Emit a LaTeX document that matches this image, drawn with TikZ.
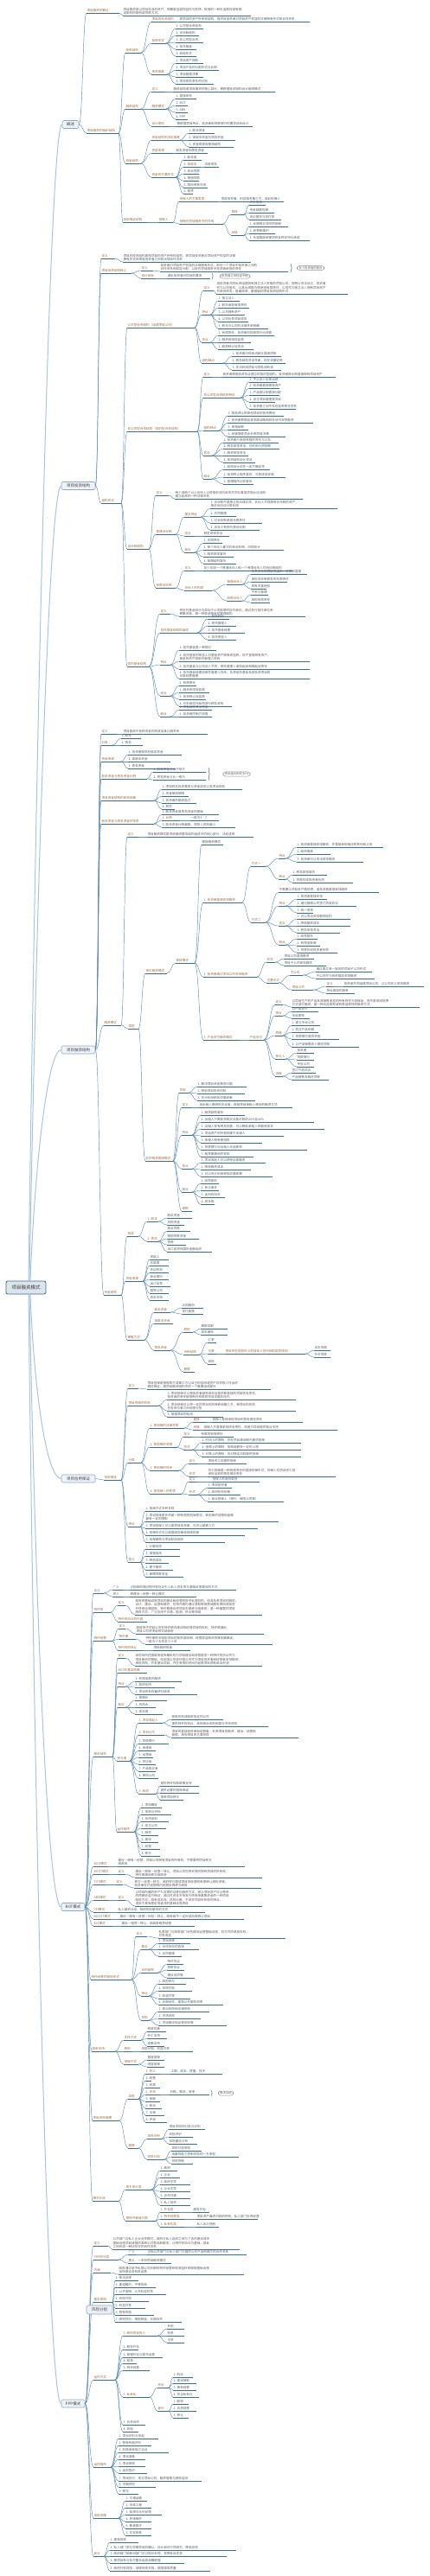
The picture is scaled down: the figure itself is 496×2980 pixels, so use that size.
\documentclass[tikz,border=0pt]{standalone}
\usepackage{fontspec}
\setmainfont{Noto Sans CJK SC}
\usetikzlibrary{calc,decorations.pathreplacing}
\definecolor{ulc}{HTML}{3A6D96}
\definecolor{cnc}{HTML}{5B8DB8}
\definecolor{labc}{HTML}{9C6B3C}
\definecolor{lfc}{HTML}{5E5E5E}
\definecolor{rcc}{HTML}{A8C6DD}
\definecolor{boxf}{HTML}{EEF3F8}
\definecolor{boxd}{HTML}{8FA9C0}
\tikzset{
 lab/.style={anchor=south west,inner xsep=0.4pt,inner ysep=0.8pt,text=labc,font=\fontsize{3.6}{4.5}\selectfont,align=left},
 lf/.style={lab,text=lfc},
 ul/.style={draw=ulc,line width=0.65pt},
 cn/.style={draw=cnc,line width=0.45pt},
 mbox/.style={draw=boxd,fill=boxf,rounded corners=1.5pt,line width=0.6pt,font=\fontsize{4.5}{5}\selectfont,text=black!75,inner sep=0pt,minimum height=9pt},
 rbox/.style={draw=ulc,fill=ulc!18,rounded corners=2pt,line width=0.8pt,font=\fontsize{5.5}{6}\selectfont,text=black!80,inner sep=0pt,minimum width=46pt,minimum height=15pt},
 rc/.style={draw=rcc,line width=1pt},
 bub/.style={draw=black!45,rounded corners=3pt,line width=0.4pt,font=\fontsize{3.4}{4}\selectfont,text=lfc,inner xsep=2pt,inner ysep=1pt},
}
\newcommand\mmB[6]{\coordinate (#1-l) at (#3,#4);\coordinate (#1-r) at (#5,#4);\node[lab] (#1) at (#1-l) {#6};\draw[ul] (#1-l) -- (#1-r);\draw[cn] let \p1=(#2-r),\p2=(#1-l) in (\p1) .. controls ({(\x1+\x2)/2},\y1) and ({(\x1+\x2)/2},\y2) .. (\p2);}
\newcommand\mmL[6]{\coordinate (#1-l) at (#3,#4);\coordinate (#1-r) at (#5,#4);\node[lf] (#1) at (#1-l) {#6};\draw[ul] (#1-l) -- (#1-r);\draw[cn] let \p1=(#2-r),\p2=(#1-l) in (\p1) .. controls ({(\x1+\x2)/2},\y1) and ({(\x1+\x2)/2},\y2) .. (\p2);}
\newcommand\mmBub[6]{\draw[ul,line width=0.4pt,decorate,decoration={brace,amplitude=1.3pt}] (#2,#3) -- (#2,#4);\node[bub] (#1) at (#5,{(#3+#4)/2}) {#6};}
\begin{document}
\begin{tikzpicture}[x=1pt,y=-1pt]
\useasboundingbox (0,0) rectangle (496,2980);
\fill[white] (0,0) rectangle (496,2980);
% root and main branches
\node[rbox] (root) at (30,1489.5) {项目融资模式};
\node[mbox,minimum width=19pt] (m1) at (81.5,144) {概述};
\node[mbox,minimum width=39pt] (m2) at (90.5,562) {项目投资结构};
\node[mbox,minimum width=39pt] (m3) at (90.5,1214.5) {项目融资结构};
\node[mbox,minimum width=39pt] (m4) at (90.5,1710.5) {项目信用保证};
\node[mbox,minimum width=27pt] (m5) at (84.5,2206) {BOT模式};
\node[mbox,minimum width=27pt] (m6) at (84.5,2780.5) {PPP模式};
\foreach \m in {m1,m2,m3,m4,m5,m6} \coordinate (\m-r) at (\m.east);
\draw[rc] ([xshift=3pt]root.north) .. controls (41,900) and (57,144) .. (m1.west);
\draw[rc] ([xshift=4pt]root.north) .. controls (41,1100) and (56,562) .. (m2.west);
\draw[rc] ([xshift=5pt]root.north) .. controls (40,1350) and (55,1214.5) .. (m3.west);
\draw[rc] ([xshift=5pt]root.south) .. controls (40,1620) and (55,1710.5) .. (m4.west);
\draw[rc] ([xshift=4pt]root.south) .. controls (42,1900) and (56,2206) .. (m5.west);
\draw[rc] ([xshift=3pt]root.south) .. controls (42,2250) and (57,2780.5) .. (m6.west);
%================ main 1
\mmB{a}{m1}{100}{15}{138}{项目融资的概念}
\mmL{a1}{a}{142}{18}{290}{项目融资是以项目本身的资产、预期收益或权益作为抵押，取得的一种无追索权或有限\\追索权的融资或贷款方式。}
\mmB{b}{m1}{100}{154}{137}{项目融资的组织结构}
\mmB{b1}{b}{145}{61}{163}{投资结构}
\mmB{b1a}{b1}{175}{25}{204}{项目的投资结构}
\mmL{b1a1}{b1a}{207}{25}{358}{即项目的资产所有权结构，指项目投资者对项目资产权益的法律拥有形式和合作关系}
\mmB{b1b}{b1}{175}{50}{192}{投资形式}
\mmL{b1b1}{b1b}{203}{33}{235}{1. 公司型合资结构}
\mmL{b1b2}{b1b}{203}{41}{230}{2. 合伙制结构}
\mmL{b1b3}{b1b}{203}{49}{235}{3. 非公司型合资}
\mmL{b1b4}{b1b}{203}{57}{227}{4. 信托基金}
\mmL{b1b5}{b1b}{203}{65}{227}{5. 其他形式}
\mmB{b1c}{b1}{175}{86}{193}{考虑因素}
\mmL{b1c1}{b1c}{203}{73}{235}{1. 项目资产拥有}
\mmL{b1c2}{b1c}{203}{81}{253}{2. 项目产品的分配形式与比例}
\mmL{b1c3}{b1c}{203}{89}{235}{3. 项目管理决策}
\mmL{b1c4}{b1c}{203}{97}{247}{4. 项目债务责任的分担}
\mmB{b2}{b}{145}{126}{163}{融资结构}
\mmB{b2a}{b2}{175}{106}{190}{定义}
\mmL{b2a1}{b2a}{200}{106}{318}{融资结构是项目融资的核心部分，需根据投资结构设计融资模式}
\mmB{b2b}{b2}{175}{126}{192}{融资模式}
\mmL{b2b1}{b2b}{203}{114}{227}{1. 直接安排}
\mmL{b2b2}{b2b}{203}{122}{217}{2. BOT}
\mmL{b2b3}{b2b}{203}{130}{217}{3. ABS}
\mmL{b2b4}{b2b}{203}{138}{217}{4. PPP}
\mmB{b2c}{b2}{175}{146}{196}{设计原则}
\mmL{b2c1}{b2c}{204}{146}{292}{需根据项目特点、投资者和贷款银行的要求综合设计}
\mmB{b3}{b}{145}{189}{163}{资金结构}
\mmB{b3a}{b3}{175}{162}{208}{资金结构的决定因素}
\mmL{b3a1}{b3a}{218}{154}{248}{1. 股本资金}
\mmL{b3a2}{b3a}{218}{162}{272}{2. 准股本资金与债务资金}
\mmL{b3a3}{b3a}{218}{170}{270}{3. 资金来源及使用结构}
\mmB{b3b}{b3}{175}{177}{200}{资金来源}
\mmL{b3b1}{b3b}{203}{177}{240}{股本资金和债务资金}
\mmB{b3c}{b3}{175}{205}{203}{资金的主要形式}
\mmL{b3c1}{b3c}{212}{185}{233}{1. 股本金}
\mmB{b3c2}{b3c}{212}{193}{232}{2. 准股本}
\mmL{b3c2a}{b3c2}{236}{193}{253}{次级债务}
\mmL{b3c3}{b3c}{212}{201}{230}{3. 商业贷款}
\mmL{b3c4}{b3c}{212}{209}{230}{4. 银团贷款}
\mmL{b3c5}{b3c}{212}{217}{240}{5. 国际债券市场}
\mmL{b3c6}{b3c}{212}{224}{223}{6. 租赁}
\mmB{b4}{b}{142}{257}{170}{信用保证结构}
\mmB{b4a}{b4}{183}{257}{200}{担保人}
\mmB{b4a1}{b4a}{207}{233}{252}{担保人的主要类型}
\mmL{b4a1a}{b4a1}{255}{233}{328}{项目投资者、利益相关第三方、商业担保人}
\mmB{b4a2}{b4a}{207}{259}{258}{担保在项目融资中的作用}
\mmB{b4a2a}{b4a2}{267}{248}{282}{直接}
\mmL{b4a2a1}{b4a2a}{288}{237}{307}{完工担保}
\mmL{b4a2a2}{b4a2a}{288}{246}{317}{资金缺额担保}
\mmL{b4a2a3}{b4a2a}{288}{254}{325}{无论提货与否付款}
\mmB{b4a2b}{b4a2}{267}{272}{282}{间接}
\mmL{b4a2b1}{b4a2b}{288}{262}{333}{1. 长期购买合同的担保}
\mmL{b4a2b2}{b4a2b}{288}{270}{318}{2. 经营和维护}
\mmL{b4a2b3}{b4a2b}{288}{278}{358}{3. 东道国政府提供的各种支持与承诺}
%================ main 2
\mmB{c}{m2}{117}{299}{133}{定义}
\mmL{c1}{c}{142}{303}{290}{项目的投资结构是指项目的资产所有权结构，即项目投资者对项目资产权益的法律\\拥有形式和项目投资者之间的法律合作关系}
\mmB{d}{m2}{117}{316}{152}{项目投资结构核心}
\mmB{d1}{d}{163}{313}{177}{定义}
\mmL{d1a}{d1}{185}{314}{333}{投资者对项目资产权益的法律拥有形式，即在一个项目中投资者之间的\\合作关系和权益分配，以及在项目融资中投资者承担的责任}
\mmBub{d1b}{336}{305}{315}{359}{多个投资者的联合}
\mmB{d2}{d}{163}{322}{180}{设计目标}
\mmL{d2a}{d2}{193}{322}{243}{满足投资者对项目的要求}
\mmBub{d2b}{245}{316}{323}{271.5}{投资者之间利益平衡}
\mmB{e}{m2}{117}{582}{140}{结构形式}
\mmB{e1}{e}{147}{379}{225}{公司型合资结构（组建项目公司）}
\mmB{e1a}{e1}{235}{336}{247}{定义}
\mmL{e1a1}{e1a}{250}{340}{402}{由投资者共同出资组建具有独立法人资格的项目公司，按照公司法设立，投资者\\作为公司股东，以其出资额为限承担有限责任，公司作为独立法人拥有项目资产\\并承担债务，是最简单、最普遍的项目投资结构形式}
\mmB{e1b}{e1}{233}{364}{243}{特点}
\mmL{e1b1}{e1b}{252}{348}{277}{1. 独立法人}
\mmL{e1b2}{e1b}{252}{356}{288}{2. 股东承担有限责任}
\mmL{e1b3}{e1b}{252}{364}{283}{3. 公司拥有资产}
\mmL{e1b4}{e1b}{252}{372}{287}{4. 公司负责项目债务}
\mmL{e1b5}{e1b}{252}{380}{310}{5. 股东与公司的法律关系明确}
\mmB{e1c}{e1}{233}{396}{243}{优点}
\mmL{e1c1}{e1c}{252}{388}{317}{1. 有限责任，投资者风险局限于出资额}
\mmL{e1c2}{e1c}{252}{396}{290}{2. 融资安排较容易}
\mmL{e1c3}{e1c}{252}{404}{293}{3. 股权转让较灵活}
\mmB{e1d}{e1}{233}{420}{258}{结构缺点}
\mmL{e1d1}{e1d}{268}{412}{325}{1. 投资者对现金流缺乏直接控制}
\mmL{e1d2}{e1d}{268}{420}{330}{2. 税务结构灵活性差，存在双重征税}
\mmL{e1d3}{e1d}{268}{428}{325}{3. 无法利用项目亏损抵消利润}
\mmB{e2}{e}{147}{499}{228}{非公司型合资结构（契约型合资结构）}
\mmB{e2a}{e2}{235}{436}{245}{定义}
\mmL{e2a1}{e2a}{257}{436}{388}{投资者根据合资协议建立的契约型结构，投资者按比例直接拥有项目资产}
\mmB{e2b}{e2}{235}{460}{278}{非公司型合资结构特征}
\mmL{e2b1}{e2b}{288}{442}{320}{1. 不以法人实体出现}
\mmL{e2b2}{e2b}{288}{449}{323}{2. 投资者直接拥有资产}
\mmL{e2b3}{e2b}{288}{457}{323}{3. 产品按比例直接分配}
\mmL{e2b4}{e2b}{288}{465}{318}{4. 设立项目管理委员会}
\mmL{e2b5}{e2b}{288}{473}{342}{5. 投资者之间不存在连带责任关系}
\mmB{e2c}{e2}{235}{498}{253}{结构特点}
\mmL{e2c1}{e2c}{263}{481}{328}{1. 按投资比例承担项目的投资费用}
\mmL{e2c2}{e2c}{263}{489}{362}{2. 投资者根据自身发展战略和财务状况安排融资}
\mmL{e2c3}{e2c}{263}{497}{287}{3. 单独纳税}
\mmL{e2c4}{e2c}{263}{505}{330}{4. 由管理委员会负责项目决策}
\mmB{e2d}{e2}{235}{527}{245}{优点}
\mmL{e2d1}{e2d}{258}{512}{322}{1. 投资者只承担有限的责任与义务}
\mmL{e2d2}{e2d}{258}{519}{323}{2. 税务安排灵活，可利用亏损抵税}
\mmL{e2d3}{e2d}{258}{527}{287}{3. 融资安排灵活}
\mmL{e2d4}{e2d}{258}{535}{295}{4. 投资结构设计灵活}
\mmB{e2e}{e2}{235}{554}{245}{缺点}
\mmL{e2e1}{e2e}{258}{543}{312}{1. 结构设计存在一定不确定性}
\mmL{e2e2}{e2e}{258}{552}{330}{2. 投资转让程序复杂，交易成本较高}
\mmL{e2e3}{e2e}{258}{560}{293}{3. 管理程序比较复杂}
\mmB{e3}{e}{147}{635}{172}{合伙制结构}
\mmB{e3a}{e3}{180}{573}{195}{定义}
\mmL{e3a1}{e3a}{202}{577}{350}{两个或两个以上合伙人以获取利润为目的共同从事某项商业活动而\\建立起来的一种法律关系}
\mmB{e3b}{e3}{180}{618}{203}{普通合伙制}
\mmB{e3b1}{e3b}{213}{598}{232}{基本特征}
\mmL{e3b1a}{e3b1}{243}{588}{390}{1. 合伙制不是独立的法律实体，合伙人共同拥有合伙制的资产，\\按合伙协议分享利润}
\mmL{e3b1b}{e3b1}{243}{597}{273}{2. 共同管理}
\mmL{e3b1c}{e3b1}{243}{605}{303}{3. 对合伙制承担无限责任}
\mmL{e3b1d}{e3b1}{243}{613}{300}{4. 合伙人有权代表合伙制}
\mmB{e3b2}{e3b}{213}{620}{225}{优点}
\mmL{e3b2a}{e3b2}{235}{620}{265}{税务安排灵活}
\mmB{e3b3}{e3b}{213}{639}{225}{缺点}
\mmL{e3b3a}{e3b3}{235}{628}{257}{1. 无限责任}
\mmL{e3b3b}{e3b3}{235}{636}{328}{2. 每个合伙人都可约束合伙制，风险较大}
\mmL{e3b3c}{e3b3}{235}{644}{270}{3. 融资安排复杂}
\mmL{e3b3d}{e3b3}{235}{652}{273}{4. 管理结构复杂}
\mmB{e3c}{e3}{180}{680}{203}{有限合伙制}
\mmB{e3c1}{e3c}{213}{660}{225}{定义}
\mmL{e3c1a}{e3c1}{235}{660}{338}{至少包括一个普通合伙人和一个有限合伙人的合伙制结构}
\mmB{e3c2}{e3c}{213}{683}{245}{合伙人的构成}
\mmB{e3c2a}{e3c2}{262}{676}{280}{普通合伙人}
\mmL{e3c2a1}{e3c2a}{290}{664}{355}{负责合伙制项目的组织、经营和管理}
\mmL{e3c2a2}{e3c2a}{290}{673}{332}{承担合伙制债务的无限责任}
\mmL{e3c2a3}{e3c2a}{290}{681}{308}{具有丰富经验}
\mmB{e3c2b}{e3c2}{262}{695}{280}{有限合伙人}
\mmL{e3c2b1}{e3c2b}{290}{688}{310}{不参与管理}
\mmL{e3c2b2}{e3c2b}{290}{697}{312}{承担有限责任}
\mmB{e4}{e}{147}{771}{172}{信托基金结构}
\mmB{e4a}{e4}{185}{710}{197}{定义}
\mmL{e4a1}{e4a}{207}{713}{353}{将信托基金划分为类似于公司股票的信托单位，通过发行信托单位来\\筹集资金，是一种投资基金的管理结构}
\mmB{e4b}{e4}{185}{732}{228}{信托基金结构的组成}
\mmL{e4b1}{e4b}{240}{716}{265}{1. 信托契约}
\mmL{e4b2}{e4b}{240}{724}{273}{2. 受托管理人}
\mmL{e4b3}{e4b}{240}{732}{283}{3. 信托基金经理}
\mmL{e4b4}{e4b}{240}{740}{273}{4. 信托受益人}
\mmB{e4c}{e4}{185}{769}{197}{特点}
\mmL{e4c1}{e4c}{207}{752}{250}{1. 信托基金是一种契约}
\mmL{e4c2}{e4c}{207}{765}{358}{2. 信托基金的受益人对基金资产拥有受益权，但不直接拥有资产，\\基金的资产由受托管理人持有}
\mmL{e4c3}{e4c}{207}{774}{358}{3. 信托基金与公司法人不同，受托管理人承担起诉和被起诉责任}
\mmL{e4c4}{e4c}{207}{785}{358}{4. 信托基金经理由受托管理人任命，负责信托基金及其投资项目的\\日常经营管理}
\mmB{e4d}{e4}{185}{805}{197}{优点}
\mmL{e4d1}{e4d}{207}{793}{227}{1. 有限责任}
\mmL{e4d2}{e4d}{207}{801}{242}{2. 融资安排较容易}
\mmL{e4d3}{e4d}{207}{809}{238}{3. 投资转让较容易}
\mmL{e4d4}{e4d}{207}{817}{268}{4. 可利用信托结构进行税务安排}
\mmB{e4e}{e4}{185}{829}{197}{缺点}
\mmL{e4e1}{e4e}{207}{821}{245}{1. 税务结构灵活性差}
\mmL{e4e2}{e4e}{207}{829}{245}{2. 投资者控制力较弱}
%================ main 3
\mmB{f}{m3}{117}{849}{135}{定义}
\mmL{f1}{f}{142}{849}{240}{项目融资中各种资金的构成及其比例关系}
\mmB{g}{m3}{117}{862}{130}{分类}
\mmL{g1}{g}{140}{854}{163}{1. 股本}
\mmL{g2}{g}{140}{862}{165}{2. 债务}
\mmB{h}{m3}{117}{881}{140}{资金来源}
\mmL{h1}{h}{148}{873}{210}{1. 投资者提供的股本资金}
\mmL{h2}{h}{148}{881}{197}{2. 准股本资金}
\mmL{h3}{h}{148}{889}{203}{3. 债务资金}
\mmB{i}{m3}{117}{901}{170}{股本资金与债务资金比例}
\mmL{i1}{i}{177}{893}{238}{1. 股本资金占比不低于}
\mmL{i2}{i}{177}{902}{238}{2. 债务资金占比一般为}
\mmBub{i3}{241}{888}{903}{273.5}{资本金比例约30\%}
\mmB{j}{m3}{117}{926}{178}{项目资金结构的影响因素}
\mmL{j1}{j}{187}{913}{280}{1. 项目的总投资需求与资金成本以及项目风险}
\mmL{j2}{j}{187}{921}{218}{2. 资金使用期限}
\mmL{j3}{j}{187}{929}{227}{3. 投资者的融资能力}
\mmL{j4}{j}{187}{936}{202}{4. 税务}
\mmB{k}{m3}{117}{953}{178}{股本资金与债务资金的关系}
\mmL{k1}{k}{187}{942}{253}{1. 股本资金是债务资金的基础}
\mmB{k2}{k}{187}{949}{207}{2. 比例}
\mmL{k2a}{k2}{220}{949}{253}{一般为3：7}
\mmL{k3}{k}{187}{957}{272}{3. 股本资金比例越高，贷款人风险越小}
\mmB{l}{m3}{120}{1186}{140}{融资模式}
\mmB{l1}{l}{147}{968}{160}{定义}
\mmL{l1a}{l1}{170}{968}{293}{项目融资模式是项目融资整体结构组成中的核心部分，决定成败}
\mmB{l2}{l}{148}{1190}{160}{类型}
\mmB{l2a}{l2}{168}{1126}{193}{常见融资模式}
\mmB{l2a1}{l2a}{203}{1114}{225}{具体模式}
\mmL{A}{l2a1}{233}{977}{258}{直接融资模式}
\mmB{B}{l2a1}{235}{1044}{280}{1. 投资者直接安排融资}
\mmB{B1}{B}{290}{1002}{307}{方式一}
\mmB{B1a}{B1}{322}{993}{330}{特点}
\mmL{B1a1}{B1a}{343}{980}{443}{1. 投资者直接安排融资，并直接承担相应的责任和义务}
\mmL{B1a2}{B1a}{343}{988}{382}{2. 结构简单}
\mmL{B1a3}{B1a}{343}{997}{420}{3. 投资者可以灵活安排融资}
\mmB{B1b}{B1}{322}{1017}{330}{缺点}
\mmL{B1b1}{B1b}{338}{1012}{378}{1. 税务安排复杂}
\mmL{B1b2}{B1b}{338}{1021}{408}{2. 贷款形成投资者负债}
\mmB{B2}{B}{290}{1067}{307}{方式二}
\mmL{B2a}{B2}{322}{1032}{438}{不需要以项目资产做抵押，由投资者直接安排融资}
\mmB{B2b}{B2}{322}{1048}{330}{特点}
\mmL{B2b1}{B2b}{343}{1040}{378}{1. 投资者直接安排}
\mmL{B2b2}{B2b}{343}{1048}{412}{2. 通过管理公司签订项目协议}
\mmL{B2b3}{B2b}{343}{1056}{362}{3. 统一安排}
\mmB{B2c}{B2}{322}{1071}{330}{优点}
\mmL{B2c1}{B2c}{343}{1063}{405}{1. 可以灵活安排融资结构}
\mmL{B2c2}{B2c}{343}{1071}{405}{2. 降低融资成本}
\mmL{B2c3}{B2c}{343}{1079}{393}{3. 税务安排灵活}
\mmB{B2d}{B2}{322}{1093}{330}{缺点}
\mmL{B2d1}{B2d}{343}{1086}{367}{1. 结构复杂}
\mmL{B2d2}{B2d}{343}{1094}{370}{2. 有限追索难}
\mmL{B2d3}{B2d}{343}{1102}{390}{3. 贷款形成投资者负债}
\mmB{C}{l2a1}{235}{1130}{297}{2. 投资者通过项目公司安排融资}
\mmB{C1}{C}{308}{1113}{318}{形式}
\mmL{C1a}{C1}{328}{1109}{363}{项目公司直接融资}
\mmL{C1b}{C1}{328}{1117}{377}{项目子公司安排融资}
\mmB{C2}{C}{308}{1137}{322}{主要形式}
\mmB{C2a}{C2}{335}{1128}{350}{子公司}
\mmL{C2a1}{C2a}{365}{1124}{430}{通过建立单一目的的项目子公司形式}
\mmL{C2a2}{C2a}{365}{1132}{433}{子公司作为投资载体安排融资}
\mmB{C2b}{C2}{337}{1145}{362}{项目公司}
\mmB{C2b1}{C2b}{377}{1141}{385}{定义}
\mmL{C2b1a}{C2b1}{397}{1141}{490}{投资者共同组建项目公司，以公司名义安排融资}
\mmL{C2b2}{C2b}{377}{1149}{410}{特点是结构简单}
\mmB{D}{l2a1}{235}{1203}{277}{3. 产品支付融资模式}
\mmB{D0}{D}{288}{1203}{305}{产品支付}
\mmB{D1}{D0}{318}{1162}{327}{定义}
\mmL{D1a}{D1}{337}{1165}{485}{以项目生产的产品及其销售收益的所有权作为担保品，而不是采用抵押\\方式进行融资，是一种无追索权或有限追索权的融资方式}
\mmB{D2}{D0}{318}{1175}{327}{特点}
\mmL{D2a}{D2}{337}{1170}{368}{以产品支付}
\mmL{D2b}{D2}{337}{1178}{358}{无追索权}
\mmB{D3}{D0}{318}{1198}{327}{原理}
\mmL{D3a}{D3}{337}{1186}{370}{1. 建立专设公司}
\mmL{D3b}{D3}{337}{1194}{368}{2. 购买产品份额}
\mmL{D3c}{D3}{337}{1202}{392}{3. 贷款银行提供资金}
\mmL{D3d}{D3}{337}{1211}{415}{4. 以产品销售收入偿还贷款}
\mmB{D4}{D0}{318}{1225}{330}{参与人}
\mmL{D4a}{D4}{343}{1218}{363}{投资者}
\mmL{D4b}{D4}{343}{1226}{363}{贷款银行}
\mmL{D4c}{D4}{343}{1234}{363}{专设公司}
\mmB{D5}{D0}{318}{1245}{327}{流程}
\mmL{D5a}{D5}{337}{1241}{365}{签订产品协议}
\mmL{D5b}{D5}{337}{1249}{380}{产品销售及偿还贷款}
\mmB{l2b}{l2}{168}{1343}{200}{杠杆租赁融资模式}
\mmB{l2b1}{l2b}{207}{1264}{218}{作用}
\mmL{l2b1a}{l2b1}{228}{1257}{285}{1. 解决项目资金需求问题}
\mmL{l2b1b}{l2b1}{228}{1265}{283}{2. 降低项目投资风险}
\mmL{l2b1c}{l2b1}{228}{1273}{295}{3. 充分利用税务优惠政策}
\mmB{l2b2}{l2b}{210}{1281}{222}{定义}
\mmL{l2b2a}{l2b2}{230}{1281}{338}{由出租人融资购买设备，再租赁给承租人使用的融资方式}
\mmB{l2b3}{l2b}{210}{1313}{222}{特点}
\mmL{l2b3a}{l2b3}{232}{1290}{283}{1. 融资结构复杂}
\mmL{l2b3b}{l2b3}{232}{1298}{363}{2. 出租人只需投资购买设备价款的20\%至40\%}
\mmL{l2b3c}{l2b3}{232}{1306}{375}{3. 出租人享有税务优惠，可以降低承租人的融资成本}
\mmL{l2b3d}{l2b3}{232}{1314}{328}{4. 项目资产的所有权属于出租人}
\mmL{l2b3e}{l2b3}{232}{1322}{303}{5. 承租人拥有使用权}
\mmL{l2b3f}{l2b3}{232}{1330}{355}{6. 贷款银行对出租人无追索权}
\mmL{l2b3g}{l2b3}{232}{1338}{293}{7. 租赁期满后的安排}
\mmB{l2b4}{l2b}{210}{1352}{222}{优点}
\mmL{l2b4a}{l2b4}{232}{1345}{307}{1. 项目发起人可以获得全部融资}
\mmL{l2b4b}{l2b4}{232}{1353}{290}{2. 降低融资成本}
\mmL{l2b4c}{l2b4}{232}{1361}{315}{3. 可以充分利用税务优惠政策}
\mmB{l2b5}{l2b}{210}{1379}{222}{缺点}
\mmL{l2b5a}{l2b5}{232}{1369}{253}{1. 结构复杂}
\mmL{l2b5b}{l2b5}{232}{1377}{253}{2. 参与者多}
\mmL{l2b5c}{l2b5}{232}{1385}{260}{3. 谈判时间长}
\mmL{l2b5d}{l2b5}{232}{1393}{248}{4. 成本高}
\mmB{l2b6}{l2b}{210}{1401}{222}{案例}
\mmB{n}{m3}{120}{1498}{140}{资金结构}
\mmB{n1}{n}{147}{1430}{160}{构成}
\mmB{n1a}{n1}{170}{1413}{183}{1. 股本}
\mmL{n1a1}{n1a}{193}{1409}{222}{股本资金}
\mmL{n1a2}{n1a}{193}{1417}{213}{风险资金}
\mmB{n1b}{n1}{170}{1436}{183}{2. 债务}
\mmL{n1b1}{n1b}{193}{1424}{220}{商业贷款}
\mmL{n1b2}{n1b}{193}{1433}{230}{银团贷款资金}
\mmL{n1b3}{n1b}{193}{1440}{215}{债券}
\mmL{n1b4}{n1b}{193}{1448}{245}{出口信贷和国际金融组织}
\mmB{n2}{n}{145}{1482}{165}{资金来源}
\mmL{n2a}{n2}{173}{1457}{195}{发起人}
\mmL{n2b}{n2}{173}{1464}{195}{东道国}
\mmL{n2c}{n2}{173}{1472}{195}{多边机构}
\mmL{n2d}{n2}{173}{1480}{195}{商业银行}
\mmL{n2e}{n2}{173}{1488}{197}{出口信贷}
\mmL{n2f}{n2}{173}{1496}{195}{租赁公司}
\mmL{n2g}{n2}{173}{1504}{195}{资本市场}
\mmB{n3}{n}{147}{1550}{167}{筹集方式}
\mmB{n3a}{n3}{178}{1518}{197}{股本资金}
\mmL{n3a1}{n3a}{210}{1513}{235}{认购股份}
\mmL{n3a2}{n3a}{210}{1520}{235}{发行股票}
\mmB{n3b}{n3}{178}{1531}{200}{准股本资金}
\mmB{n3c}{n3}{178}{1562}{197}{债务资金}
\mmB{n3c1}{n3c}{212}{1541}{223}{原则}
\mmL{n3c1a}{n3c1}{232}{1537}{263}{期限匹配}
\mmL{n3c1b}{n3c1}{232}{1544}{263}{成本最低}
\mmB{n3c2}{n3c}{212}{1567}{230}{币种结构}
\mmL{n3c2a}{n3c2}{240}{1553}{250}{汇率}
\mmB{n3c2b}{n3c2}{240}{1566}{250}{主要}
\mmB{n3c2c}{n3c2b}{260}{1566}{353}{项目所在国货币与项目收入货币相匹配的原则}
\mmL{n3c2c1}{n3c2c}{363}{1562}{382}{本币贷款}
\mmL{n3c2c2}{n3c2c}{363}{1570}{382}{外币贷款}
\mmL{n3c2d}{n3c2}{240}{1578}{250}{其他}
\mmB{n3c3}{n3c}{212}{1587}{225}{期限}
%================ main 4
\mmB{o}{m4}{120}{1712}{140}{信用保证}
\mmB{o1}{o}{148}{1606}{160}{定义}
\mmL{o1a}{o1}{170}{1607}{313}{项目担保是指借款方或第三方以自己的信用或资产向贷款人作出的\\偿还保证，是项目融资结构中的一个重要组成部分}
\mmB{o2}{o}{148}{1626}{183}{项目担保的作用}
\mmL{o2a}{o2}{193}{1619}{342}{1. 项目担保可以使投资者避免承担全部的和直接的项目债务责任，\\投资者的责任被限制在有限的项目发展阶段内}
\mmL{o2b}{o2}{193}{1632}{342}{2. 项目担保可以将一定的项目风险转移给第三方，使项目的风险\\在各参与者之间合理分担}
\mmL{o2c}{o2}{193}{1639}{258}{3. 增强项目的信用}
\mmB{o3}{o}{148}{1692}{163}{分类}
\mmB{o3a}{o3}{173}{1652}{213}{1. 按担保的法律性质}
\mmB{o3a1}{o3a}{223}{1645}{238}{直接}
\mmL{o3a1a}{o3a1}{245}{1645}{350}{担保人直接承担项目的债务偿还责任}
\mmB{o3a2}{o3a}{223}{1654}{232}{间接}
\mmL{o3a2a}{o3a2}{235}{1654}{390}{担保人不直接承担债务责任，而是为项目提供商业支持}
\mmB{o3b}{o3}{173}{1674}{205}{2. 按担保的范围}
\mmB{o3b1}{o3b}{212}{1662}{222}{定义}
\mmL{o3b1a}{o3b1}{232}{1662}{270}{有限的担保责任}
\mmB{o3b2}{o3b}{212}{1677}{222}{形式}
\mmL{o3b2a}{o3b2}{233}{1669}{348}{1. 时间上的限制：仅在项目建设期内提供担保}
\mmL{o3b2b}{o3b2}{233}{1677}{348}{2. 金额上的限制：担保金额有一定的上限}
\mmL{o3b2c}{o3b2}{233}{1685}{348}{3. 对象上的限制：仅对特定风险提供担保}
\mmB{o3c}{o3}{173}{1701}{207}{3. 按担保的时间}
\mmB{o3c1}{o3c}{218}{1693}{228}{定义}
\mmL{o3c1a}{o3c1}{240}{1693}{285}{项目完工前提供担保}
\mmB{o3c2}{o3c}{218}{1708}{228}{形式}
\mmL{o3c2a}{o3c2}{240}{1708}{388}{完工担保是一种有限责任的直接担保形式，担保人在项目完工前\\承担全部的债务偿还责任}
\mmB{o3d}{o3}{173}{1728}{210}{4. 按担保人的性质}
\mmB{o3d1}{o3d}{218}{1714}{228}{定义}
\mmL{o3d1a}{o3d1}{245}{1714}{300}{担保人的身份类别}
\mmB{o3d2}{o3d}{218}{1729}{228}{形式}
\mmL{o3d2a}{o3d2}{240}{1721}{268}{1. 项目投资者}
\mmL{o3d2b}{o3d2}{240}{1729}{278}{2. 政府机构担保}
\mmL{o3d2c}{o3d2}{240}{1737}{328}{3. 商业担保人（银行、保险公司等）}
\mmB{o4}{o}{148}{1766}{162}{特点}
\mmL{o4a}{o4}{168}{1748}{247}{1. 担保方式多种多样}
\mmL{o4b}{o4}{168}{1760}{322}{2. 项目担保更多的是一种有限的担保责任，其担保的范围和金额\\都有一定的限制}
\mmL{o4c}{o4}{168}{1768}{298}{3. 项目担保人可以是项目投资者，也可以是第三方}
\mmL{o4d}{o4}{168}{1776}{283}{4. 担保形式可以是直接担保或间接担保}
\mmL{o4e}{o4}{168}{1784}{260}{5. 担保期限与项目阶段相关}
\mmB{o5}{o}{148}{1807}{162}{意义}
\mmL{o5a}{o5}{168}{1792}{208}{1. 分散风险}
\mmL{o5b}{o5}{168}{1800}{208}{2. 增强信用}
\mmL{o5c}{o5}{168}{1808}{195}{3. 降低成本}
\mmL{o5d}{o5}{168}{1816}{200}{4. 便于融资}
\mmL{o5e}{o5}{168}{1824}{212}{5. 保障贷款安全}
%================ main 5
\mmB{p}{m5}{108}{1843}{120}{含义}
\mmB{p1}{p}{130}{1839}{142}{广义}
\mmL{p1a}{p1}{150}{1839}{273}{泛指政府通过特许权协议引入私人资本参与基础设施建设的方式}
\mmB{p2}{p}{130}{1847}{142}{狭义}
\mmL{p2a}{p2}{150}{1847}{227}{即建设－经营－转让模式}
\mmB{q}{m5}{108}{1865}{128}{特许权}
\mmB{q1}{q}{136}{1857}{145}{定义}
\mmL{q1a}{q1}{156}{1868}{303}{政府将基础设施项目的建设和经营权授予私营机构，由其负责项目的融资、\\设计、建设、运营和维护，在特许期内通过收取使用费或服务费回收投资\\并获得合理回报，特许期满后将项目无偿移交给政府，是一种重要的项目\\融资方式，广泛应用于交通、能源、供水等领域}
\mmB{q2}{q}{136}{1876}{170}{特许权协议的内容}
\mmB{r}{m5}{108}{1898}{130}{特许经营}
\mmB{r1}{r}{137}{1884}{145}{定义}
\mmL{r1a}{r1}{157}{1890}{305}{政府授予项目公司在特许期内建设和经营项目的权利，特许期满后\\项目公司将项目移交给政府}
\mmB{r2}{r}{137}{1896}{157}{特许期}
\mmL{r2a}{r2}{168}{1902}{315}{特许期的长短由项目的投资回收期、经营收益和风险等因素确定，\\一般为十五年至三十年}
\mmB{r3}{r}{136}{1909}{165}{特许权的转让}
\mmL{r3a}{r3}{177}{1909}{220}{须经政府批准}
\mmB{s}{m5}{108}{2032}{130}{基本结构}
\mmB{s1}{s}{136}{1918}{145}{定义}
\mmL{s1a}{s1}{156}{1927}{303}{由项目所在国政府或所属机构为项目建设和经营提供一种特许权协议作为\\项目融资的基础，由本国公司或外国公司作为项目投资者和经营者安排融资，\\承担风险，开发建设项目，并在有限的时间内经营项目获取商业利润}
\mmB{s2}{s}{136}{1935}{170}{BOT的基本思路}
\mmB{s3}{s}{136}{1951}{145}{特点}
\mmL{s3a}{s3}{156}{1945}{210}{1. 有限追索的融资}
\mmL{s3b}{s3}{156}{1952}{202}{2. 政府支持}
\mmL{s3c}{s3}{156}{1960}{228}{3. 项目所有权最终归政府}
\mmB{s4}{s}{136}{1975}{145}{缺点}
\mmL{s4a}{s4}{156}{1967}{193}{1. 周期长}
\mmL{s4b}{s4}{156}{1975}{180}{2. 风险大}
\mmL{s4c}{s4}{156}{1983}{188}{3. 成本高}
\mmB{s5}{s}{135}{2037}{150}{参与者}
\mmB{s5a}{s5}{160}{1993}{188}{1. 项目发起人}
\mmL{s5a1}{s5a}{198}{1989}{258}{政府机构或政府指定的公司}
\mmL{s5a2}{s5a}{198}{1997}{310}{提供特许权协议，承担政治风险和部分市场风险}
\mmB{s5b}{s5}{160}{2007}{190}{2. 项目公司}
\mmL{s5b1}{s5b}{198}{2010}{345}{项目的直接投资者和经营者，负责项目的融资、建设、经营和\\管理，承担项目的主要风险}
\mmL{s5c}{s5}{160}{2017}{195}{3. 贷款银行}
\mmL{s5d}{s5}{160}{2025}{180}{4. 承建商}
\mmL{s5e}{s5}{160}{2033}{177}{5. 运营商}
\mmL{s5f}{s5}{160}{2041}{180}{6. 供应商}
\mmL{s5g}{s5}{160}{2049}{180}{7. 产品购买者}
\mmL{s5h}{s5}{160}{2057}{183}{8. 保险公司}
\mmB{s5i}{s5}{160}{2075}{180}{9. 政府}
\mmL{s5i1}{s5i}{185}{2066}{230}{提供特许权和政策支持}
\mmL{s5i2}{s5i}{185}{2074}{230}{提供必要的担保承诺}
\mmL{s5i3}{s5i}{185}{2082}{212}{接受项目移交}
\mmB{s6}{s}{135}{2119}{155}{运作程序}
\mmL{s6a}{s6}{163}{2091}{187}{1. 项目确定}
\mmL{s6b}{s6}{163}{2099}{198}{2. 招标与评标}
\mmL{s6c}{s6}{163}{2107}{195}{3. 合同谈判}
\mmL{s6d}{s6}{163}{2115}{192}{4. 成立公司}
\mmL{s6e}{s6}{163}{2123}{183}{5. 融资}
\mmL{s6f}{s6}{163}{2131}{183}{6. 建设}
\mmL{s6g}{s6}{163}{2139}{185}{7. 经营}
\mmL{s6h}{s6}{163}{2147}{185}{8. 移交}
\mmB{t1}{m5}{108}{2159}{125}{BOO模式}
\mmL{t1a}{t1}{136}{2159}{283}{建设－拥有－经营，项目公司拥有项目的所有权，不需要将项目移交\\给政府}
\mmB{t2}{m5}{108}{2168}{125}{BOOT模式}
\mmB{t2a}{t2}{136}{2168}{145}{定义}
\mmL{t2b}{t2a}{156}{2172}{303}{建设－拥有－经营－转让，项目公司在特许期内拥有项目的所有权，\\特许期满后移交给政府}
\mmB{t3}{m5}{108}{2180}{122}{TOT模式}
\mmB{t3a}{t3}{134}{2180}{142}{定义}
\mmL{t3b}{t3a}{155}{2184}{302}{移交－经营－移交，政府将已建成项目的经营权有偿转让给投资者，\\投资者在约定期限内经营后再移交政府}
\mmB{t4}{m5}{108}{2198}{125}{ABS模式}
\mmB{t4a}{t4}{136}{2198}{145}{定义}
\mmL{t4b}{t4a}{156}{2205}{303}{以项目所属的资产为支撑的证券化融资方式，即以项目资产可以带来\\的预期收益为保证，通过在资本市场发行债券来募集资金的一种项目\\融资方式，具有成本低、风险分散、不改变项目所有权的特点，\\适用于具有稳定现金流的基础设施项目}
\mmB{t5}{m5}{108}{2212}{125}{PFI模式}
\mmL{t5a}{t5}{136}{2212}{237}{私人融资活动，政府购买服务的方式}
\mmB{t6}{m5}{108}{2220}{128}{BOOST模式}
\mmL{t6a}{t6}{138}{2220}{282}{建设－拥有－经营－补贴－转让，政府给予一定补贴后再转让项目}
\mmB{t7}{m5}{108}{2228}{130}{BLT模式}
\mmL{t7a}{t7}{140}{2228}{225}{建设－租赁－转让，由政府租赁经营}
\mmB{u}{m5}{105}{2290}{152}{特许经营的其他形式}
\mmB{u1}{u}{157}{2240}{170}{定义}
\mmL{u1a}{u1}{183}{2242}{330}{私营部门与政府部门合作建设运营基础设施，双方共同承担风险，\\共享收益}
\mmB{u2}{u}{163}{2255}{172}{要点}
\mmL{u2a}{u2}{183}{2248}{220}{1. 项目选择}
\mmL{u2b}{u2}{183}{2255}{230}{2. 合作伙伴的选择}
\mmL{u2c}{u2}{183}{2263}{210}{3. 合同管理}
\mmB{u3}{u}{163}{2282}{182}{合同结构}
\mmL{u3a}{u3}{193}{2272}{212}{特许协议}
\mmL{u3b}{u3}{193}{2279}{213}{贷款协议}
\mmL{u3c}{u3}{193}{2288}{225}{建设合同等}
\mmB{u4}{u}{163}{2309}{172}{特点}
\mmL{u4a}{u4}{183}{2295}{215}{1. 政府参与}
\mmL{u4b}{u4}{183}{2303}{222}{2. 风险共担}
\mmL{u4c}{u4}{183}{2312}{220}{3. 收益共享}
\mmL{u4d}{u4}{183}{2319}{258}{4. 长期合作，提高公共服务效率}
\mmB{u5}{u}{163}{2337}{172}{风险}
\mmL{u5a}{u5}{183}{2327}{242}{1. 政治风险和法律风险}
\mmL{u5b}{u5}{183}{2335}{232}{2. 市场风险}
\mmL{u5c}{u5}{183}{2343}{262}{3. 项目建设和运营风险等}
\mmB{v}{m5}{106}{2373}{133}{政府支持}
\mmB{v1}{v}{143}{2360}{163}{支持方式}
\mmL{v1a}{v1}{170}{2350}{192}{税收优惠}
\mmL{v1b}{v1}{170}{2358}{193}{外汇支持}
\mmL{v1c}{v1}{170}{2367}{190}{政策支持}
\mmB{v2}{v}{143}{2373}{152}{原则}
\mmL{v2a}{v2}{163}{2373}{223}{风险分担、利益共享}
\mmB{v3}{v}{143}{2388}{160}{担保方式}
\mmL{v3a}{v3}{170}{2383}{190}{直接担保}
\mmL{v3b}{v3}{170}{2391}{190}{间接担保}
\mmB{w}{m5}{107}{2453}{138}{项目风险管理}
\mmB{w1}{w}{148}{2428}{160}{风险}
\mmB{w1a}{w1}{168}{2399}{185}{1. 完工}
\mmL{w1a1}{w1a}{197}{2399}{257}{工期、成本、质量、技术}
\mmL{w1b}{w1}{168}{2407}{175}{2. 经营}
\mmL{w1c}{w1}{168}{2415}{185}{3. 资源}
\mmB{w1d}{w1}{168}{2423}{185}{4. 市场}
\mmL{w1d1}{w1d}{196}{2423}{242}{价格、需求、竞争}
\mmBub{w1d2}{244}{2418}{2425}{261}{需求风险}
\mmL{w1e}{w1}{168}{2431}{185}{5. 金融}
\mmL{w1f}{w1}{168}{2439}{187}{6. 政治}
\mmL{w1g}{w1}{168}{2447}{190}{7. 法律}
\mmL{w1h}{w1}{168}{2455}{193}{8. 环境}
\mmB{w2}{w}{148}{2485}{160}{管理}
\mmB{w2a}{w2}{170}{2474}{187}{风险识别}
\mmL{w2a1}{w2a}{195}{2463}{237}{项目风险的分类与识别}
\mmL{w2a2}{w2a}{195}{2472}{223}{风险评价}
\mmL{w2a3}{w2a}{195}{2480}{228}{风险量化分析}
\mmB{w2b}{w2}{170}{2498}{190}{风险分担}
\mmL{w2b1}{w2b}{198}{2488}{233}{风险分担原则}
\mmL{w2b2}{w2b}{198}{2495}{276}{由最有能力控制风险的一方承担}
\mmL{w2b3}{w2b}{198}{2503}{223}{风险控制}
\mmB{x}{m5}{107}{2546}{137}{模式比较}
\mmB{x1}{x}{145}{2533}{175}{按主体分类}
\mmL{x1a}{x1}{185}{2511}{205}{1. 政府}
\mmL{x1b}{x1}{185}{2519}{208}{2. 企业}
\mmL{x1c}{x1}{185}{2527}{220}{3. 政府主导}
\mmL{x1d}{x1}{185}{2535}{220}{4. 企业主导}
\mmL{x1e}{x1}{185}{2543}{220}{5. 合作共建}
\mmL{x1f}{x1}{185}{2551}{220}{6. 私人投资}
\mmB{x2}{x}{145}{2569}{180}{按特许程度分类}
\mmB{x2a}{x2}{185}{2559}{207}{1. 外包类}
\mmL{x2a1}{x2a}{223}{2559}{242}{服务外包}
\mmB{x2b}{x2}{185}{2567}{213}{2. 特许经营类}
\mmL{x2b1}{x2b}{227}{2567}{298}{项目资产最终归政府所有，私人部门负责经营}
\mmB{x2c}{x2}{185}{2576}{213}{3. 私有化类}
\mmL{x2c1}{x2c}{227}{2576}{253}{私人永久拥有}
%================ main 6
\mmB{y1}{m6}{108}{2598}{125}{定义}
\mmL{y1a}{y1}{130}{2602}{277}{公共部门与私人企业合作模式，政府与私人组织之间为了合作建设城市\\基础设施项目或提供某种公共物品和服务，以特许权协议为基础，彼此\\之间形成一种伙伴式的合作关系}
\mmB{y2}{m6}{108}{2614}{137}{PPP的分类}
\mmB{y2a}{y2}{148}{2608}{157}{广义}
\mmL{y2a1}{y2a}{170}{2608}{285}{泛指公共部门与私人部门为提供公共产品而建立的合作关系}
\mmL{y2b}{y2}{148}{2618}{198}{狭义：一系列项目融资模式}
\mmB{y3}{m6}{108}{2629}{128}{内涵}
\mmL{y3a}{y3}{137}{2631}{282}{政府通过给予私营公司长期的特许经营权和收益权来换取基础设施\\加快建设及有效运营}
\mmB{y4}{m6}{108}{2663}{130}{基本原则}
\mmL{y4a}{y4}{133}{2638}{160}{1. 依法合规}
\mmL{y4b}{y4}{133}{2646}{180}{2. 重诺履约，平等协商}
\mmL{y4c}{y4}{133}{2654}{192}{3. 公开透明，公共利益优先}
\mmL{y4d}{y4}{133}{2662}{172}{4. 风险共担}
\mmL{y4e}{y4}{133}{2670}{168}{5. 利益共享}
\mmL{y4f}{y4}{133}{2678}{178}{6. 物有所值}
\mmL{y4g}{y4}{133}{2686}{210}{7. 绩效导向，激励相容，长期合作}
\node[mbox,fill=ulc!10,minimum width=30pt,minimum height=10pt] (y4box) at (115,2672) {风险分担};
\mmB{y5}{m6}{108}{2753}{133}{运作方式}
\mmB{y5a}{y5}{142}{2702}{182}{1. 政府资金投入}
\mmL{y5a1}{y5a}{193}{2694}{213}{补贴}
\mmL{y5a2}{y5a}{193}{2702}{213}{贴息}
\mmL{y5a3}{y5a}{193}{2710}{213}{注资}
\mmL{y5b}{y5}{142}{2718}{160}{2. 服务外包}
\mmL{y5c}{y5}{142}{2727}{188}{3. 管理外包与委托运营}
\mmL{y5d}{y5}{142}{2734}{158}{4. 租赁}
\mmL{y5e}{y5}{142}{2742}{173}{5. 特许经营}
\mmB{y5f}{y5}{142}{2773}{173}{6. 私有化}
\mmB{y5f1}{y5f}{182}{2762}{195}{完全}
\mmL{y5f1a}{y5f1}{200}{2750}{223}{1. 购买}
\mmL{y5f1b}{y5f1}{200}{2757}{227}{2. 建设拥有}
\mmL{y5f1c}{y5f1}{200}{2765}{227}{3. 拥有经营}
\mmL{y5f1d}{y5f1}{200}{2773}{230}{4. 完全私有化}
\mmB{y5f2}{y5f}{182}{2789}{195}{部分}
\mmL{y5f2a}{y5f2}{200}{2781}{218}{1. 股权}
\mmL{y5f2b}{y5f2}{200}{2789}{227}{2. 合资经营}
\mmL{y5f2c}{y5f2}{200}{2797}{218}{3. 转让}
\mmL{y5g}{y5}{142}{2805}{168}{7. 合资合作}
\mmL{y5h}{y5}{142}{2813}{160}{8. 其他}
\mmB{y6}{m6}{108}{2854}{128}{运作程序}
\mmL{y6a}{y6}{137}{2821}{183}{1. 项目识别与发起}
\mmL{y6b}{y6}{137}{2829}{175}{2. 物有所值评价}
\mmL{y6c}{y6}{137}{2837}{195}{3. 财政承受能力论证}
\mmL{y6d}{y6}{137}{2845}{168}{4. 项目准备}
\mmL{y6e}{y6}{137}{2853}{168}{5. 项目采购}
\mmL{y6f}{y6}{137}{2861}{170}{6. 谈判签约}
\mmL{y6g}{y6}{137}{2870}{233}{7. 项目执行，成立项目公司，融资管理与绩效监测}
\mmL{y6h}{y6}{137}{2877}{180}{8. 中期评估}
\mmL{y6i}{y6}{137}{2885}{160}{9. 移交}
\mmB{y7}{m6}{108}{2913}{137}{适用范围}
\mmL{y7a}{y7}{145}{2893}{170}{1. 交通运输}
\mmL{y7b}{y7}{145}{2901}{175}{2. 市政工程}
\mmL{y7c}{y7}{145}{2909}{187}{3. 能源与水利设施}
\mmL{y7d}{y7}{145}{2917}{175}{4. 环境保护}
\mmL{y7e}{y7}{145}{2925}{175}{5. 教育医疗}
\mmL{y7f}{y7}{145}{2933}{175}{6. 文化体育}
\mmB{y8}{m6}{108}{2957}{120}{优点}
\mmL{y8a}{y8}{127}{2941}{160}{1. 提高效率}
\mmL{y8b}{y8}{127}{2950}{273}{2. 私人部门参与早期项目的确认、设计和可行性研究，降低风险}
\mmL{y8c}{y8}{127}{2957}{262}{3. 政府部门和民间部门可以取长补短，发挥各自优势}
\mmL{y8d}{y8}{127}{2965}{213}{4. 使项目参与各方整合组成战略联盟}
\mmL{y8e}{y8}{127}{2974}{243}{5. 政府分担风险，减轻财政负担，提高服务质量}
\end{tikzpicture}
\end{document}
